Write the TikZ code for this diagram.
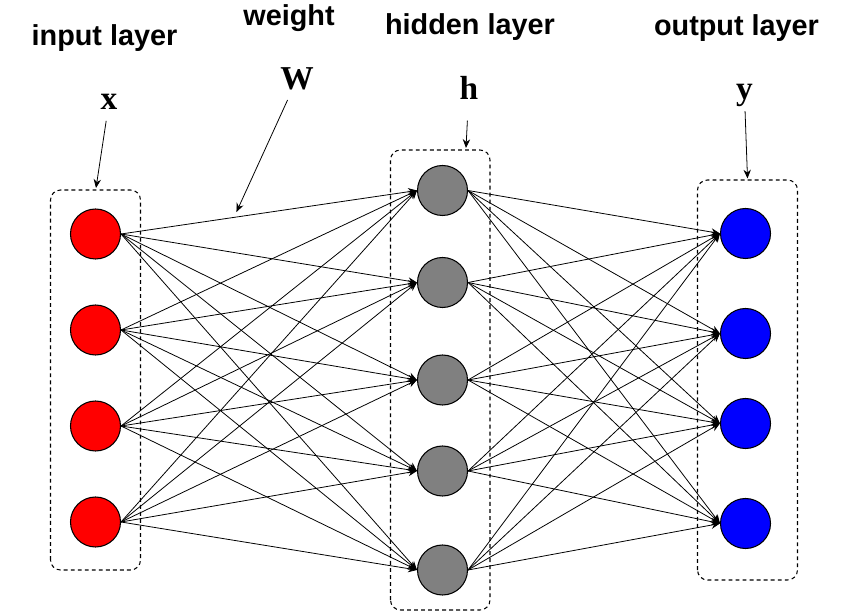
\documentclass[tikz,border=0pt]{standalone}
\usepackage{fontspec}
\setsansfont{Liberation Sans}
\newfontfamily\vecfont{Liberation Serif}
\usetikzlibrary{arrows.meta,positioning,calc}

\begin{document}
\begin{tikzpicture}[
    neuron/.style={circle,draw,line width=0.6pt,minimum size=1cm,inner sep=0pt},
    layerbox/.style={draw,dash pattern=on 2.2pt off 1.8pt,rounded corners=0.2cm,line width=0.6pt},
    conn/.style={-{Stealth[length=5pt,width=4.2pt]},line width=0.45pt},
    title/.style={font=\sffamily\bfseries\fontsize{16.4}{18}\selectfont},
    vec/.style={font=\vecfont\bfseries\fontsize{19}{21}\selectfont,inner sep=2pt,anchor=base}
  ]
  \useasboundingbox (0,0) rectangle (17.24,12.24);

  % Cajas de cada capa
  \draw[layerbox] (1.01,0.84) rectangle (2.81,8.44);
  \draw[layerbox] (7.81,0.04) rectangle (9.80,9.24);
  \draw[layerbox] (13.95,0.64) rectangle (15.95,8.64);

  % Neuronas
  \foreach \y [count=\i] in {7.56,5.64,3.72,1.80}
    \node[neuron,fill=red] (x\i) at (1.91,\y) {};
  \foreach \y [count=\i] in {8.43,6.59,4.64,2.82,0.84}
    \node[neuron,fill=gray] (h\i) at (8.85,\y) {};
  \foreach \y [count=\i] in {7.57,5.57,3.77,1.77}
    \node[neuron,fill=blue] (y\i) at (14.91,\y) {};

  % Conexiones
  \foreach \i in {1,...,4}
    \foreach \j in {1,...,5}
      \draw[conn] (x\i.east) -- (h\j.west);
  \foreach \i in {1,...,5}
    \foreach \j in {1,...,4}
      \draw[conn] (h\i.east) -- (y\j.west);

  % Titulos
  \node[title] (tin) at (2.09,11.47) {input layer};
  \node[title] (tw) at (5.78,11.87) {weight};
  \node[title] (thid) at (9.40,11.69) {hidden layer};
  \node[title] (tout) at (14.73,11.67) {output layer};

  % Vectores
  \node[vec] (lx) at (2.18,10.04) {x};
  \node[vec] (lw) at (5.94,10.44) {W};
  \node[vec] (lh) at (9.38,10.24) {h};
  \node[vec] (ly) at (14.89,10.24) {y};

  \coordinate (ax) at (1.92,8.48);
  \coordinate (aw) at ($(x1.east)!0.39!(h1.west)+(0,0.1)$);
  \coordinate (ah) at (9.32,9.28);
  \coordinate (ay) at (14.95,8.67);

  \draw[conn,shorten <=4pt] (lx) -- (ax);
  \draw[conn,shorten <=3.5pt] (lw) -- (aw);
  \draw[conn,shorten <=9.5pt] (lh) -- (ah);
  \draw[conn] (ly) -- (ay);
\end{tikzpicture}
\end{document}
